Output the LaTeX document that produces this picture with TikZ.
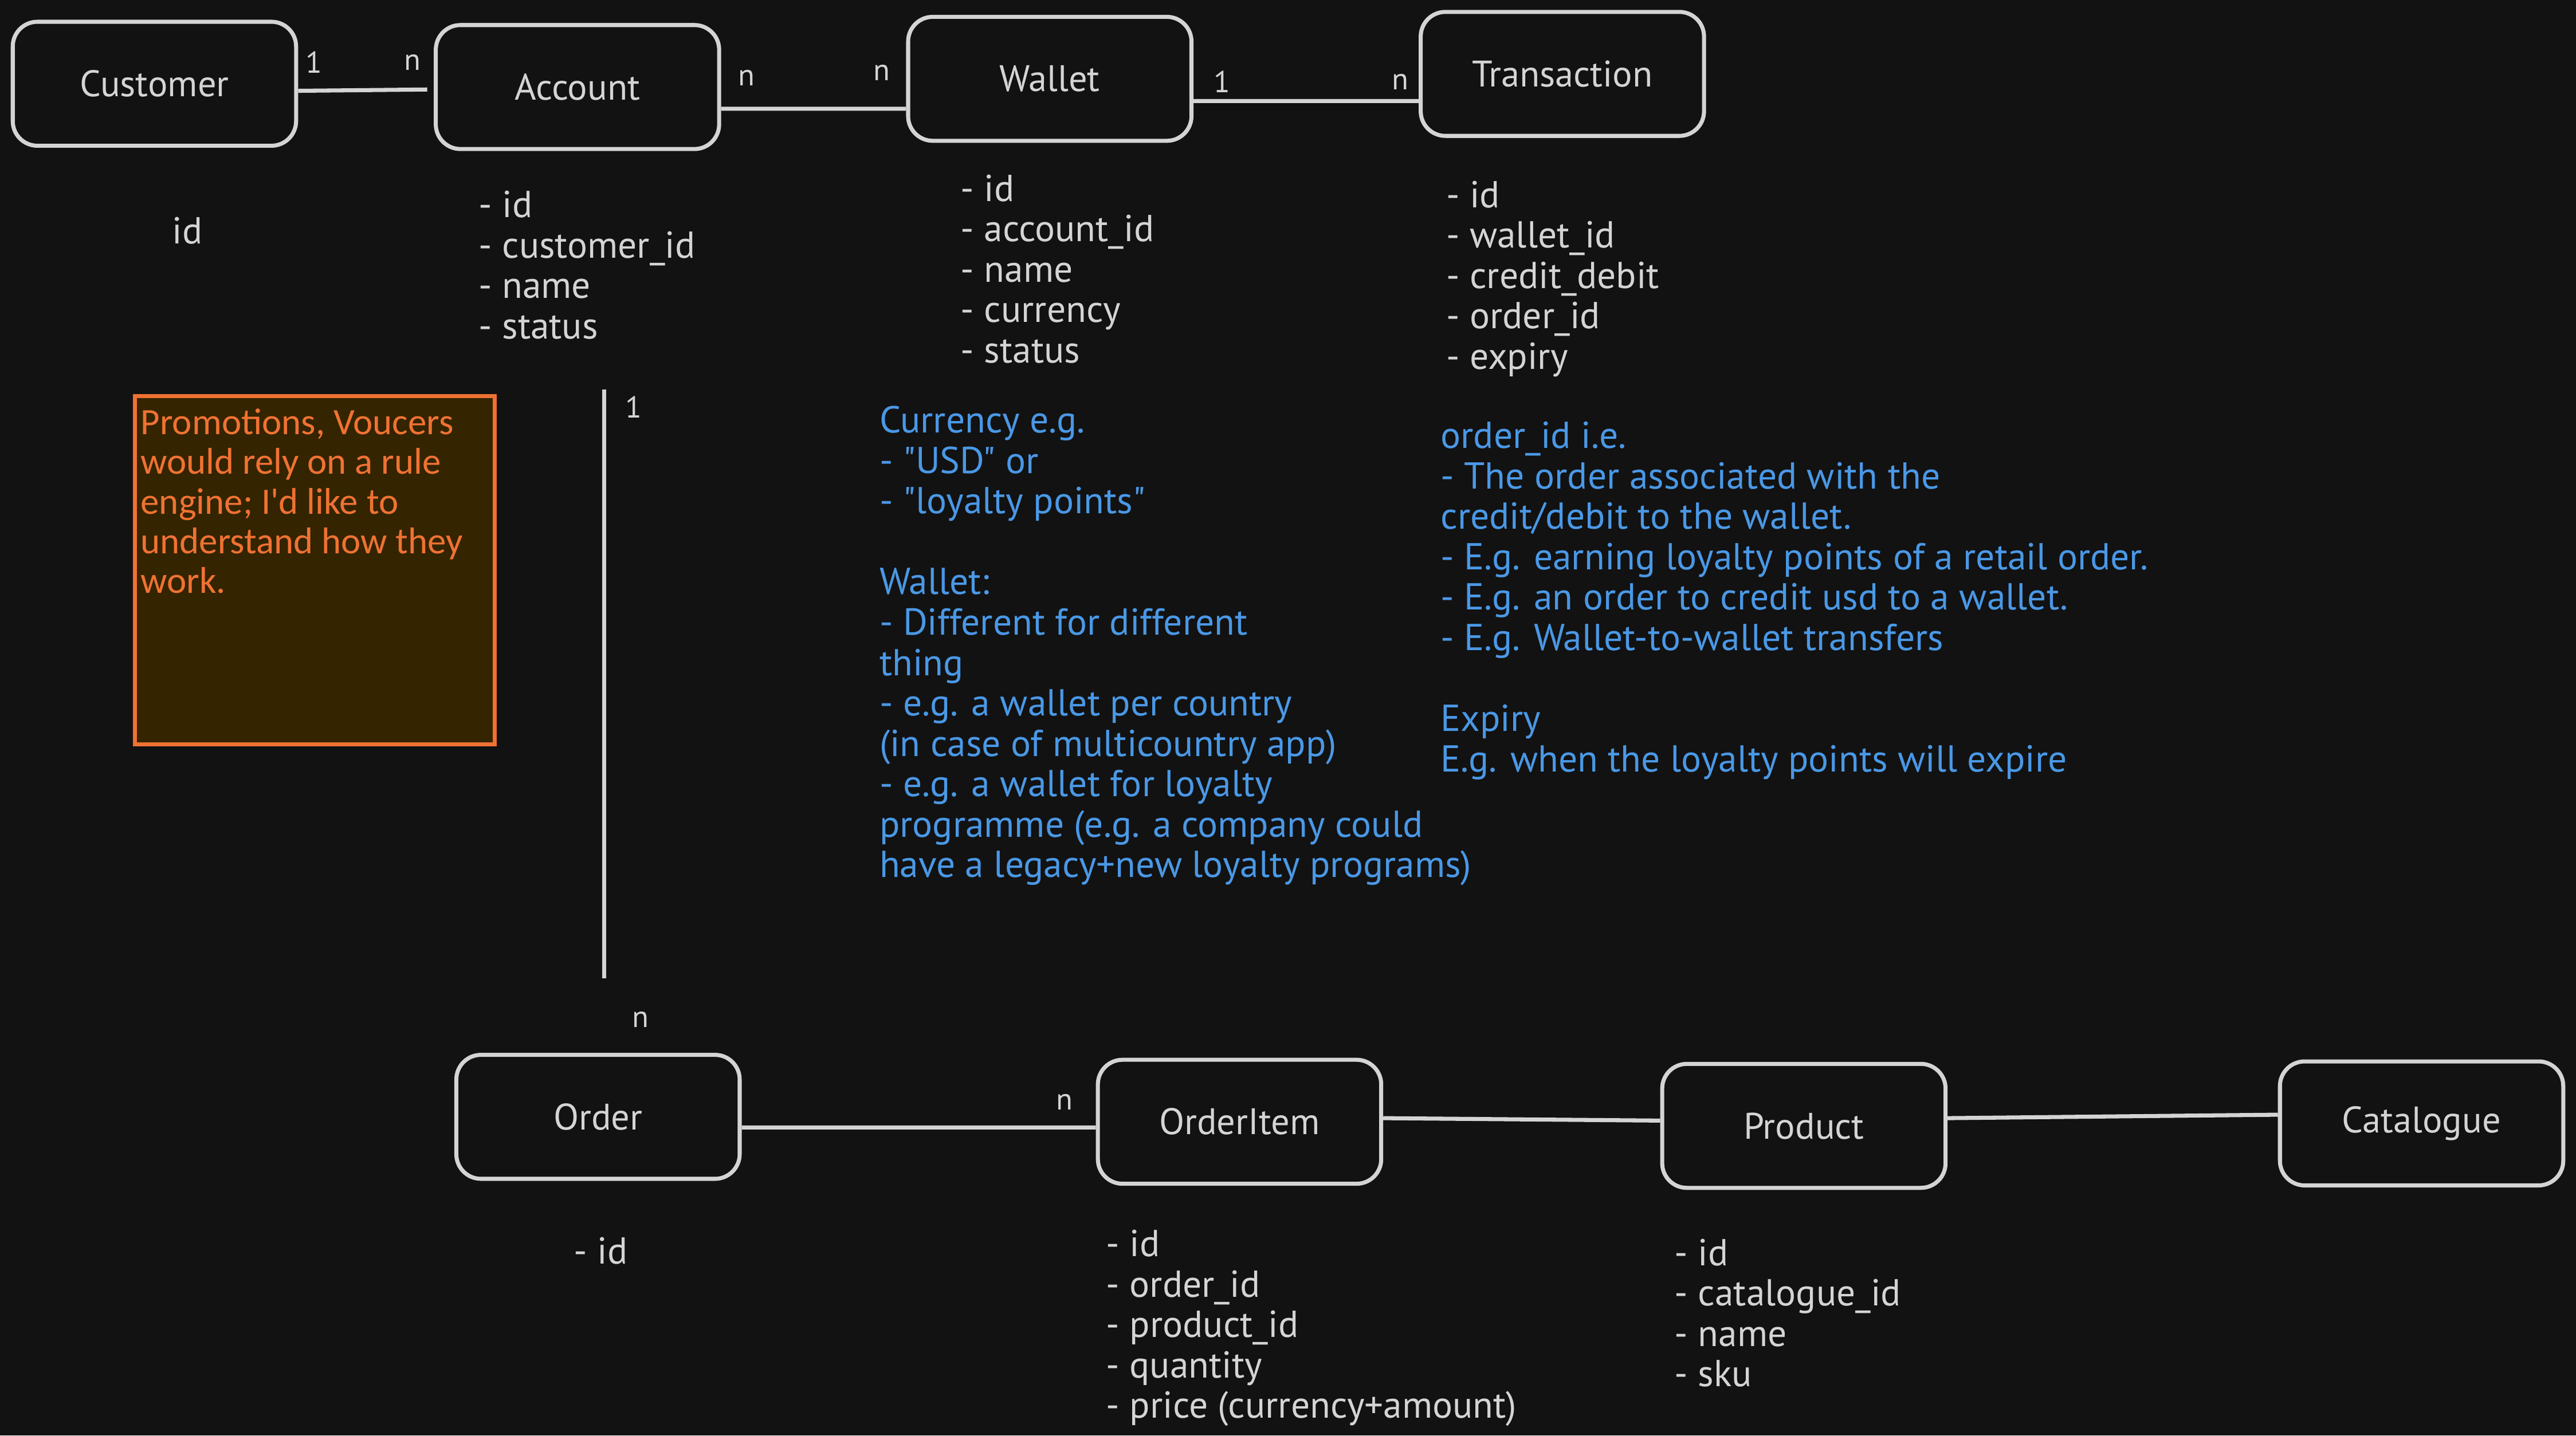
\documentclass[tikz,border=0pt]{standalone}
\usepackage{fontspec}
\setmainfont{PT Sans}[Ligatures=TeXOff]
\newfontfamily\notefont{Carlito}[Ligatures=TeXOff]
\usetikzlibrary{positioning}

\begin{document}
\begin{tikzpicture}
  [x=0.02cm, y=-0.02cm]

    \definecolor{canvas}{HTML}{121212}
    \definecolor{chalk}{HTML}{D4D4D4}
    \definecolor{sky}{HTML}{4A98E6}
    \definecolor{ember}{HTML}{EF7233}
    \definecolor{umber}{HTML}{352400}

  \tikzset{
    base/.style={
      inner sep=0pt,
      text=chalk,
      font=\fontsize{13}{14}\selectfont,
    },
    entity/.style={
      rectangle, rounded corners=0.3cm,
      draw=chalk, line width=1.4pt, fill=canvas,
      minimum width=3.45cm, minimum height=1.51cm,
      text=chalk, font=\fontsize{12.8}{15}\selectfont,
    },
    attrs/.style={base,
      anchor=north west, align=left,
    },
    memo/.style={attrs,
      text=sky,
    },
    card/.style={base,
      font=\fontsize{10.5}{12}\selectfont,
    },
    note/.style={
      rectangle, anchor=north west,
      draw=ember, line width=1.4pt, fill=umber,
      minimum width=4.38cm, minimum height=4.24cm,
    },
    notetext/.style={attrs,
      text=ember, font=\notefont\fontsize{12.9}{13.75}\selectfont,
    },
    link/.style={draw=chalk, line width=1.4pt},
  }

  \useasboundingbox[fill=canvas] (0,0) rectangle (1568,874);

  % top row
  \node[entity] (cust) at (94,51) {Customer};
  \node[entity] (acct) at (351.5,53) {Account};
  \node[entity] (wal) at (639,48) {Wallet};
  \node[entity] (trx) at (951,45) {Transaction};

  \draw[link] ([yshift=-0.086cm]cust.east) -- ([xshift=-0.08cm, yshift=-0.03cm]acct.west);
  \node[card] (custone) at (191,38) {1};
  \node[card] (acctmany) at (251,38) {n};

  \draw[link] ([yshift=-0.264cm]acct.east) -- ([yshift=-0.364cm]wal.west);
  \node[card] (acctn) at (454.5,47.5) {n};
  \node[card] (waln) at (536.7,44.4) {n};

  \draw[link] ([yshift=-0.27cm]wal.east) -- ([yshift=-0.33cm]trx.west);
  \node[card] (walone) at (743.9,49.8) {1};
  \node[card] (trxmany) at (852.5,49.8) {n};

  \node[base] (custattr) at (114,140.5) {id};
  \node[attrs] (acctattr) at (291,115.9) {- id\\- customer\_id\\- name\\- status};
  \node[attrs] (walattr) at (584.4,105.9) {- id\\- account\_id\\- name\\- currency\\- status};
  \node[attrs] (trxattr) at (880,109.8) {- id\\- wallet\_id\\- credit\_debit\\- order\_id\\- expiry};

  % notes
  \node[note] (promo) at (81,240) {};
  \node[notetext] (promotext) at (85.3,248.5) {Promotions, Voucers\\would rely on a rule\\engine; I'd like to\\understand how they\\work.};

  \node[memo] (curnote) at (535,247) {Currency e.g.\\- "USD" or\\- "loyalty points"\\[14pt]
    Wallet:\\- Different for different\\thing\\- e.g. a wallet per country\\(in case of multicountry app)\\
    - e.g. a wallet for loyalty\\programme (e.g. a company could\\have a legacy+new loyalty programs)};
  \node[memo] (ordnote) at (876.6,256.5) {order\_id i.e.\\- The order associated with the\\credit/debit to the wallet.\\
    - E.g. earning loyalty points of a retail order.\\- E.g. an order to credit usd to a wallet.\\
    - E.g. Wallet-to-wallet transfers\\[14pt]Expiry\\E.g. when the loyalty points will expire};

  % account to order
  \coordinate (accttail) at (367.8,237.3);
  \coordinate (ordtail) at (367.8,595.6);
  \draw[link] (accttail) -- (ordtail);
  \node[card] (acctone) at (385.6,247.7) {1};
  \node[card] (ordmany) at (390,620.8) {n};

  % bottom row
  \node[entity] (ord) at (364,680) {Order};
  \node[entity] (item) at (754.5,683) {OrderItem};
  \node[entity] (prod) at (1098,685.5) {Product};
  \node[entity] (cat) at (1474,684) {Catalogue};

  \draw[link] ([yshift=-0.13cm]ord.east) -- ([yshift=-0.07cm]item.west);
  \node[card] (itemmany) at (648,671) {n};
  \draw[link] ([yshift=0.044cm]item.east) -- ([yshift=0.064cm]prod.west);
  \draw[link] ([yshift=0.094cm]prod.east) -- ([yshift=0.106cm]cat.west);

  \node[attrs] (ordattr) at (349,753) {- id};
  \node[attrs] (itemattr) at (673,748.5) {- id\\- order\_id\\- product\_id\\- quantity\\- price (currency+amount)};
  \node[attrs] (prodattr) at (1019,754) {- id\\- catalogue\_id\\- name\\- sku};
\end{tikzpicture}
\end{document}
